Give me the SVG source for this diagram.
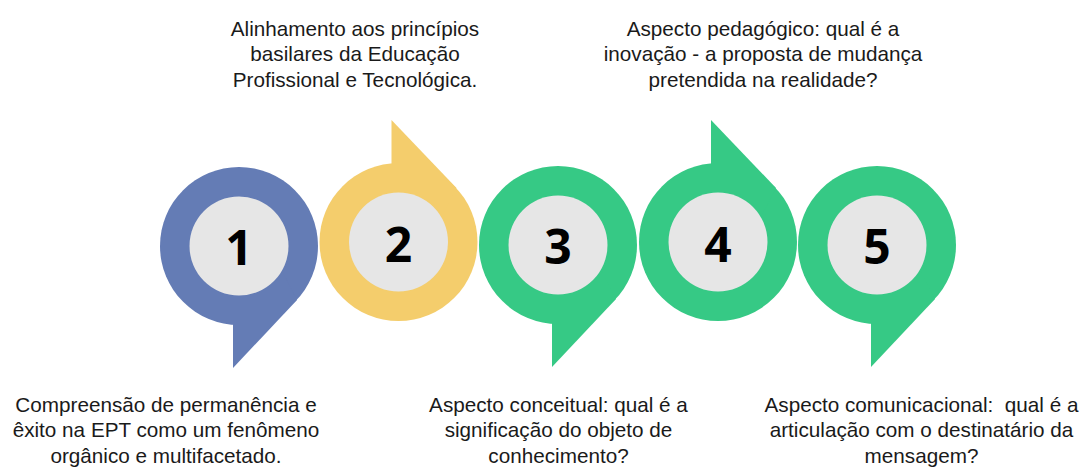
<svg xmlns="http://www.w3.org/2000/svg" xmlns:xlink="http://www.w3.org/1999/xlink" width="1083" height="469" viewBox="0 0 1083 469">
<style>
.lbl{font-family:"Liberation Sans",Arial,sans-serif;font-size:20.7px;fill:#1a1a1a;text-anchor:middle;white-space:pre}
.num{font-family:"Open Sans","DejaVu Sans",sans-serif;font-weight:700;font-size:48px;fill:#000;text-anchor:middle}
.inner{fill:#E6E6E6}
.blue{fill:#647CB5}
.yellow{fill:#F4CD6C}
.green{fill:#36C985}
</style>
<defs>
<g id="down">
<circle cx="0" cy="0" r="79"/>
<polygon points="-6,40 -6,122 58,54 30,0"/>
</g>
<g id="up">
<circle cx="0" cy="0" r="79"/>
<polygon points="-7,-40 -7,-122 58,-54 30,0"/>
</g>
</defs>
<rect width="1083" height="469" fill="#fff"/>
<g id="node1">
<use xlink:href="#down" class="blue" transform="translate(239,246)"/>
<circle class="inner" cx="239" cy="246" r="49.5"/>
<text class="num" x="239" y="265">1</text>
<text class="lbl"><tspan x="166" y="411.5">Compreensão de permanência e</tspan><tspan x="166" y="437">êxito na EPT como um fenômeno</tspan><tspan x="166" y="462.5">orgânico e multifacetado.</tspan></text>
</g>
<g id="node2">
<use xlink:href="#up" class="yellow" transform="translate(398.5,242)"/>
<circle class="inner" cx="398.5" cy="242" r="49.5"/>
<text class="num" x="398.5" y="262">2</text>
<text class="lbl"><tspan x="355" y="35.5">Alinhamento aos princípios</tspan><tspan x="355" y="61">basilares da Educação</tspan><tspan x="355" y="86.5">Profissional e Tecnológica.</tspan></text>
</g>
<g id="node3">
<use xlink:href="#down" class="green" transform="translate(558,245)"/>
<circle class="inner" cx="558" cy="245" r="49.5"/>
<text class="num" x="558" y="264">3</text>
<text class="lbl"><tspan x="558.5" y="411.5">Aspecto conceitual: qual é a</tspan><tspan x="558.5" y="437">significação do objeto de</tspan><tspan x="558.5" y="462.5">conhecimento?</tspan></text>
</g>
<g id="node4">
<use xlink:href="#up" class="green" transform="translate(718,242)"/>
<circle class="inner" cx="718" cy="242" r="49.5"/>
<text class="num" x="718" y="262">4</text>
<text class="lbl"><tspan x="763" y="35.5">Aspecto pedagógico: qual é a</tspan><tspan x="763" y="61">inovação - a proposta de mudança</tspan><tspan x="763" y="86.5">pretendida na realidade?</tspan></text>
</g>
<g id="node5">
<use xlink:href="#down" class="green" transform="translate(877,245)"/>
<circle class="inner" cx="877" cy="245" r="49.5"/>
<text class="num" x="877" y="264">5</text>
<text class="lbl"><tspan x="921.5" y="411.5">Aspecto comunicacional:  qual é a</tspan><tspan x="921.5" y="437">articulação com o destinatário da</tspan><tspan x="921.5" y="462.5">mensagem?</tspan></text>
</g>
</svg>
